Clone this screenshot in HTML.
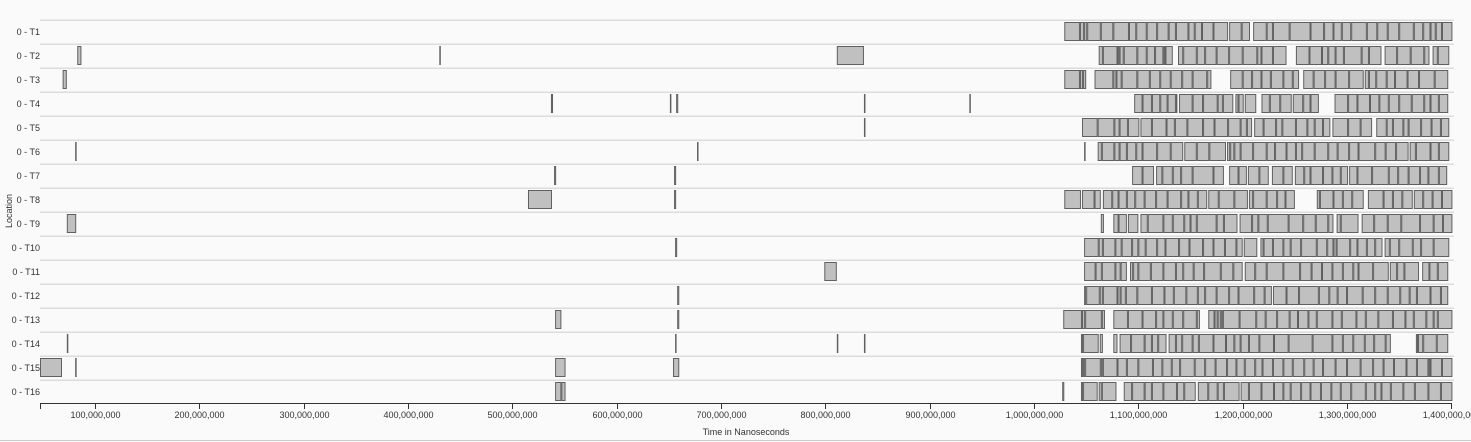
<!DOCTYPE html>
<html><head><meta charset="utf-8"><style>
html,body{margin:0;padding:0;background:#fafafa;}
svg{display:block;font-family:"Liberation Sans",sans-serif;}
</style></head><body>
<svg id="chart" width="1471" height="442" viewBox="0 0 1471 442" xmlns="http://www.w3.org/2000/svg">
<rect x="0" y="0" width="1471" height="442" fill="#fafafa"/>
<line x1="0" y1="440.5" x2="1471" y2="440.5" stroke="#ccc"/>
<g id="grid"></g><g id="bars"></g><g id="axis"></g>
<text x="746" y="435" font-size="9" fill="#333" text-anchor="middle">Time in Nanoseconds</text>
<text transform="translate(12,211) rotate(-90)" font-size="9" fill="#333" text-anchor="middle">Location</text>
</svg>
<script>
const rowLabels = ["0 - T1","0 - T2","0 - T3","0 - T4","0 - T5","0 - T6","0 - T7","0 - T8","0 - T9","0 - T10","0 - T11","0 - T12","0 - T13","0 - T14","0 - T15","0 - T16"];
const tickValues = [100,200,300,400,500,600,700,800,900,1000,1100,1200,1300,1400];
const tickLabels = ["100,000,000","200,000,000","300,000,000","400,000,000","500,000,000","600,000,000","700,000,000","800,000,000","900,000,000","1,000,000,000","1,100,000,000","1,200,000,000","1,300,000,000","1,400,000,000"];
// event boundaries in millions of ns; each inner list = contiguous events
const row1 = [[1029,1044,1048,1051,1064,1076,1091,1098,1108,1118,1129,1136,1148,1154,1161,1172,1186],[1187,1199,1207],[1210,1223,1229,1245,1265,1278,1287,1295,1304,1319,1329,1339,1350,1364,1373,1380,1385,1391,1401]];
const row2 = [[83,87],[430,431],[811,837],[1062,1066,1080,1082,1086,1099,1108,1116,1124,1126,1133],[1138,1143,1156,1164,1175,1187,1200,1214,1218,1229,1242],[1251,1264,1276,1282,1289,1297,1314,1321,1333],[1336,1348,1361,1374,1379],[1382,1387,1398]];
const row3 = [[69,73],[1029,1044,1047,1050],[1058,1076,1079,1084,1099,1111,1121,1131,1142,1152,1166,1170],[1188,1200,1209,1218,1227,1239,1248,1254],[1258,1268,1279,1289,1302,1316],[1317,1321,1328,1338,1346,1358,1369,1384,1397]];
const row4 = [[537,539],[651,652],[657,659],[837,838],[938,939],[1096,1104,1113,1121,1128,1136,1137],[1139,1152,1162,1176,1181,1191],[1193,1196,1201],[1202,1213],[1218,1226,1236,1247],[1248,1258,1265,1273],[1288,1301,1310,1322,1331,1340,1350,1362,1374,1380,1388,1397]];
const row5 = [[837,838],[1046,1061,1077,1082,1090,1101],[1102,1113,1127,1135,1147,1162,1173,1186,1198,1204,1209],[1211,1220,1232,1238,1251,1262,1269,1277,1284],[1286,1301,1313,1324],[1328,1338,1344,1354,1359,1371,1381,1390,1398]];
const row6 = [[81,82],[677,678],[1048,1049],[1061,1065,1077,1082,1089,1098,1104,1118,1131,1143],[1144,1156,1168,1184],[1185,1188,1192,1198,1210,1223,1231,1242,1251,1257,1269,1282,1291,1302,1311,1327,1337,1347,1359],[1360,1366,1380,1388,1398]];
const row7 = [[540,542],[655,657],[1094,1104,1115],[1117,1123,1133,1141,1152,1172,1182],[1187,1196,1204],[1205,1216,1225],[1228,1239,1248],[1250,1259,1265,1277,1286,1294,1301],[1302,1310,1324,1340,1349,1359,1370,1378,1388,1396]];
const row8 = [[515,538],[655,657],[1029,1045],[1046,1058,1064],[1066,1075,1081,1089,1097,1106,1117,1128,1141,1148,1157,1166],[1167,1177,1192,1205],[1206,1210,1223,1233,1241,1250],[1271,1274,1287,1296,1305,1316],[1320,1335,1344,1353,1363],[1364,1373,1382,1391,1401]];
const row9 = [[73,82],[1064,1067],[1076,1081,1089],[1090,1100],[1102,1109,1124,1133,1144,1150,1156,1175,1182,1195],[1197,1209,1215,1224,1244,1258,1270,1282,1287],[1290,1294,1311],[1314,1326,1339,1352,1370,1383,1392,1401]];
const row10 = [[656,658],[1048,1062,1066,1078,1084,1094,1100,1107,1118,1126,1139,1149,1162,1172,1183,1194,1200],[1201,1214],[1217,1220,1229,1239,1246,1256,1271,1281,1287,1290,1303,1310,1319,1327,1334],[1336,1341,1350,1363,1371,1383,1398]];
const row11 = [[799,811],[1048,1059,1065,1078,1083,1089],[1092,1095,1100,1112,1124,1136,1143,1153,1163,1179,1191,1200],[1202,1212,1223,1239,1255,1266,1276,1286,1296,1306,1311,1325,1340],[1341,1348,1355,1369],[1372,1379,1387,1397]];
const row12 = [[658,660],[1048,1050,1063,1066,1080,1083,1088,1099,1113,1125,1134,1146,1157,1164,1175,1187,1196,1211,1221,1228],[1229,1242,1254,1273,1283,1291,1300,1315,1327,1339,1351,1360,1367,1380,1390,1397]];
const row13 = [[541,547],[658,660],[1028,1046,1049,1065,1068],[1076,1090,1104,1117,1124,1133,1143,1156,1159],[1167,1173,1176,1179,1181,1197,1213,1222,1233,1245,1253,1263,1271,1286,1295,1309,1318,1330,1344,1356,1364,1376,1383,1387,1401]];
const row14 = [[73,74],[656,657],[811,812],[837,838],[1045,1047,1062],[1063,1066],[1076,1080],[1082,1093,1106,1113,1119,1127],[1129,1136,1142,1152,1158,1172,1184,1192,1198,1206,1216,1230,1244,1267,1286,1296,1306,1317,1326,1337,1342],[1366,1368,1373,1386,1397]];
const row15 = [[47.3,68.4],[81,82],[541,551],[654,660],[1045,1047,1049,1064,1066,1080,1089,1100,1114,1123,1132,1140,1154,1164,1174,1185,1194,1202,1212,1219,1229,1239,1248,1259,1268,1277,1289,1300,1313,1325,1335,1345,1357,1367,1378,1380,1391,1401]];
const row16 = [[541,547,551],[1027,1029],[1045,1047,1061],[1062,1065,1079],[1086,1094,1106,1113,1124,1137,1144,1155],[1157,1167,1176,1182,1197],[1198,1206,1218,1230,1239,1246,1256,1265,1275,1285,1294,1304,1318,1327,1333,1342,1354,1365,1378,1390,1401]];
const rows = [row1,row2,row3,row4,row5,row6,row7,row8,row9,row10,row11,row12,row13,row14,row15,row16];

const NS='http://www.w3.org/2000/svg';
const X0=40, X1=1452, D0=47.3, D1=1400.6;
function xs(v){return X0+(v-D0)/(D1-D0)*(X1-X0);}
const ROW_TOP=20, ROW_H=24;
function ys(i){return ROW_TOP+i*ROW_H;}
function mk(tag,attrs,parent){const e=document.createElementNS(NS,tag);for(const k in attrs)e.setAttribute(k,attrs[k]);parent.appendChild(e);return e;}

const grid=document.getElementById('grid'), bars=document.getElementById('bars'), axis=document.getElementById('axis');
rowLabels.forEach((lab,i)=>{
  const l=mk('rect',{x:X0,y:ys(i)-0.5,width:X1-X0+2,height:1.5,fill:'#dcdcdc'},grid);
  
  
  const t=mk('text',{x:X0,y:ys(i)+15,'font-size':9,fill:'#333','text-anchor':'end'},grid);
  t.textContent=lab;
  
  
});
rows.forEach((blocks,i)=>{
  blocks.forEach(b=>{
    for(let k=0;k<b.length-1;k++){
      const a=xs(b[k]), c=xs(b[k+1]);
      const w=Math.max(c-a,1);
      const r=mk('rect',{x:a+0.5,y:ys(i)+2.5,width:Math.max(w-1,0.5),height:18,fill:'#c0c0c0',stroke:'#606060','stroke-width':1},bars);
      
      
    }
  });
});
const ax=mk('line',{x1:X0,y1:403.5,x2:X1,y2:403.5,stroke:'#333','stroke-width':1},axis);


const t0=mk('line',{x1:X0+0.5,y1:403,x2:X0+0.5,y2:409,stroke:'#333'},axis);


tickValues.forEach((v,k)=>{
  const x=Math.round(xs(v))+0.5;
  const tk=mk('line',{x1:x,y1:403,x2:x,y2:409,stroke:'#333'},axis);
  
  
  const tl=mk('text',{x:x,y:418,'font-size':9,fill:'#333','text-anchor':'middle'},axis);
  tl.textContent=tickLabels[k];
  
  
});
</script>
</body></html>
